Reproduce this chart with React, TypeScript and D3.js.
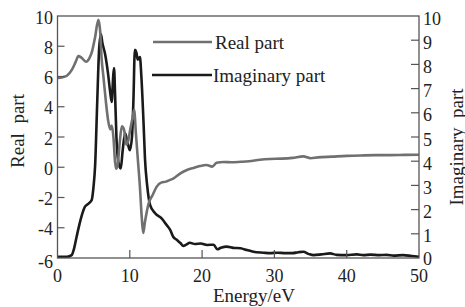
import React from "react";
import * as d3 from "d3";

const energyReal = [0, 0.7, 1.3, 2.0, 2.5, 2.9, 3.3, 3.95, 4.4, 4.8, 5.2, 5.65, 5.9, 6.1, 6.35, 6.7, 7.0, 7.3, 7.5, 7.75, 7.95, 8.1, 8.3, 8.6, 8.9, 9.2, 9.5, 9.75, 10.1, 10.4, 10.6, 10.85, 11.1, 11.4, 11.65, 11.85, 12.1, 12.6, 13.2, 13.7, 14.4, 15.0, 15.5, 16.0, 17.0, 17.9, 18.8, 19.7, 20.6, 21.4, 22.0, 23.0, 24.0, 25.3, 26.5, 28.0, 29.4, 31, 32.5, 34, 35, 36, 38, 40, 42, 44, 46, 48, 50];
const realValues = [5.9, 5.95, 6.05, 6.45, 6.95, 7.35, 7.25, 6.98, 7.2, 7.7, 8.6, 9.75, 9.0, 7.2, 6.0, 4.3, 3.1, 2.5, 2.75, 1.9, 0.4, -0.1, 0.1, 1.6, 2.7, 2.5, 1.5, 1.7, 2.6, 3.3, 3.8, 2.2, 0.6, -1.3, -3.3, -4.35, -3.6, -2.4, -1.8, -1.3, -1.0, -0.95, -0.85, -0.75, -0.4, -0.18, -0.05, 0.08, 0.15, 0.04, 0.3, 0.35, 0.33, 0.36, 0.4, 0.5, 0.55, 0.57, 0.62, 0.72, 0.6, 0.65, 0.7, 0.75, 0.78, 0.8, 0.8, 0.82, 0.83];

const energyImag = [0, 1.3, 1.96, 2.3, 2.66, 3.0, 3.35, 3.8, 4.3, 4.73, 5.0, 5.2, 5.5, 5.75, 6.0, 6.2, 6.6, 7.0, 7.27, 7.5, 7.7, 7.82, 7.96, 8.15, 8.4, 8.75, 9.0, 9.35, 9.6, 10.0, 10.3, 10.5, 10.7, 10.9, 11.1, 11.4, 11.6, 11.9, 12.1, 12.4, 12.8, 13.5, 14.4, 15.1, 15.6, 16.0, 16.5, 17.0, 17.4, 17.8, 18.3, 19.0, 19.8, 20.7, 21.6, 22.1, 22.6, 23.4, 24.3, 25.3, 26.2, 27.1, 28.5, 29.4, 30.4, 31.5, 32.5, 33.3, 34, 34.8, 35.4, 36.5, 37.7, 38.6, 40, 41.4, 42.3, 43.3, 44.5, 45.5, 46.5, 47.8, 49, 50];
const imagValues = [0.05, 0.05, 0.12, 0.4, 0.9, 1.35, 1.75, 2.12, 2.25, 2.4, 3.0, 3.8, 6.5, 8.6, 9.25, 8.9, 8.4, 7.6, 6.9, 6.45, 7.5, 7.85, 6.8, 5.0, 4.0, 3.7, 4.4, 5.15, 4.9, 4.45, 5.0, 6.5, 8.6, 8.5, 8.2, 8.3, 7.5, 5.6, 4.1, 3.0, 2.2, 1.85, 1.64, 1.36, 1.15, 0.88, 0.75, 0.62, 0.5, 0.55, 0.63, 0.58, 0.6, 0.54, 0.55, 0.36, 0.42, 0.47, 0.42, 0.4, 0.33, 0.26, 0.22, 0.2, 0.22, 0.2, 0.2, 0.24, 0.26, 0.16, 0.12, 0.15, 0.19, 0.13, 0.12, 0.15, 0.12, 0.14, 0.12, 0.13, 0.1, 0.12, 0.08, 0.05];

const xTicks = [0, 10, 20, 30, 40, 50];
const leftTicks = [-6, -4, -2, 0, 2, 4, 6, 8, 10];
const rightTicks = [0, 1, 2, 3, 4, 5, 6, 7, 8, 9, 10];
const seriesNames = ["Real part", "Imaginary part"];

const W = 465, H = 307;
const X0 = 57.5, X1 = 419, Y0 = 16, Y1 = 258;
const REAL_COLOR = "#707070";
const IMAG_COLOR = "#1a1a1a";
const AXIS_COLOR = "#555";
const TEXT_COLOR = "#222";
const FONT = "Liberation Serif";

export default function App() {
  const x = d3.scaleLinear().domain([0, 50]).range([X0, X1]);
  const yL = d3.scaleLinear().domain([-6, 10]).range([Y1, Y0]);
  const yR = d3.scaleLinear().domain([0, 10]).range([Y1, Y0]);

  const realPts = energyReal.map((e, i) => [e, realValues[i]] as [number, number]);
  const imagPts = energyImag.map((e, i) => [e, imagValues[i]] as [number, number]);

  const lineReal = d3.line<[number, number]>().x(d => x(d[0])).y(d => yL(d[1])).curve(d3.curveMonotoneX);
  const lineImag = d3.line<[number, number]>().x(d => x(d[0])).y(d => yR(d[1])).curve(d3.curveMonotoneX);

  const ts = { fontFamily: FONT, whiteSpace: "pre" as const };

  return (
    <div style={{ position: "fixed", left: 0, top: 0, width: W, height: H, background: "#fff" }}>
      <svg width={W} height={H} style={{ display: "block", fontFamily: FONT }}>
        <rect x={0} y={0} width={W} height={H} fill="#fff" />
        <path d={lineImag(imagPts) || ""} fill="none" stroke={IMAG_COLOR} strokeWidth={2.6} strokeLinejoin="round" />
        <path d={lineReal(realPts) || ""} fill="none" stroke={REAL_COLOR} strokeWidth={2.6} strokeLinejoin="round" />

        <rect x={X0} y={Y0} width={X1 - X0} height={Y1 - Y0} fill="none" stroke={AXIS_COLOR} strokeWidth={1.3} />

        {xTicks.map(t => (
          <g key={"x" + t}>
            {t > 0 && t < 50 && <line x1={x(t)} x2={x(t)} y1={Y1} y2={Y1 - 8} stroke={AXIS_COLOR} strokeWidth={1.2} />}
            <text x={x(t)} y={282} textAnchor="middle" fontSize={18} fill={TEXT_COLOR} style={ts}>{t}</text>
          </g>
        ))}
        {leftTicks.map(t => (
          <g key={"l" + t}>
            {t > -6 && t < 10 && <line x1={X0} x2={X0 + 7} y1={yL(t)} y2={yL(t)} stroke={AXIS_COLOR} strokeWidth={1.2} />}
            <text x={53} y={yL(t) + (t === -6 ? 4 : 1.5)} textAnchor="end" dominantBaseline="central" fontSize={18} fill={TEXT_COLOR} style={ts}>{t}</text>
          </g>
        ))}
        {rightTicks.map(t => (
          <g key={"r" + t}>
            {t > 0 && t < 10 && <line x1={X1} x2={X1 - 8} y1={yR(t)} y2={yR(t)} stroke={AXIS_COLOR} strokeWidth={1.2} />}
            <text x={423} y={yR(t) + (t === 0 ? 0.5 : 2.5)} textAnchor="start" dominantBaseline="central" fontSize={18} fill={TEXT_COLOR} style={ts}>{t}</text>
          </g>
        ))}

        <text x={254} y={302} textAnchor="middle" fontSize={19} fill={TEXT_COLOR} style={ts}>Energy/eV</text>
        <text transform="translate(17,131) rotate(-90)" textAnchor="middle" dominantBaseline="central" fontSize={19} fill={TEXT_COLOR} style={ts}>{"Real  part"}</text>
        <text transform="translate(456,147) rotate(-90)" textAnchor="middle" dominantBaseline="central" fontSize={19} fill={TEXT_COLOR} style={ts}>{"Imaginary  part"}</text>

        <line x1={153} x2={212} y1={42} y2={42} stroke={REAL_COLOR} strokeWidth={2.6} />
        <text x={215} y={42} dominantBaseline="central" fontSize={19} fill={TEXT_COLOR} style={ts}>{seriesNames[0]}</text>
        <line x1={152} x2={212} y1={75} y2={75} stroke={IMAG_COLOR} strokeWidth={2.6} />
        <text x={213} y={75} dominantBaseline="central" fontSize={19} fill={TEXT_COLOR} style={ts}>{seriesNames[1]}</text>
      </svg>
    </div>
  );
}
